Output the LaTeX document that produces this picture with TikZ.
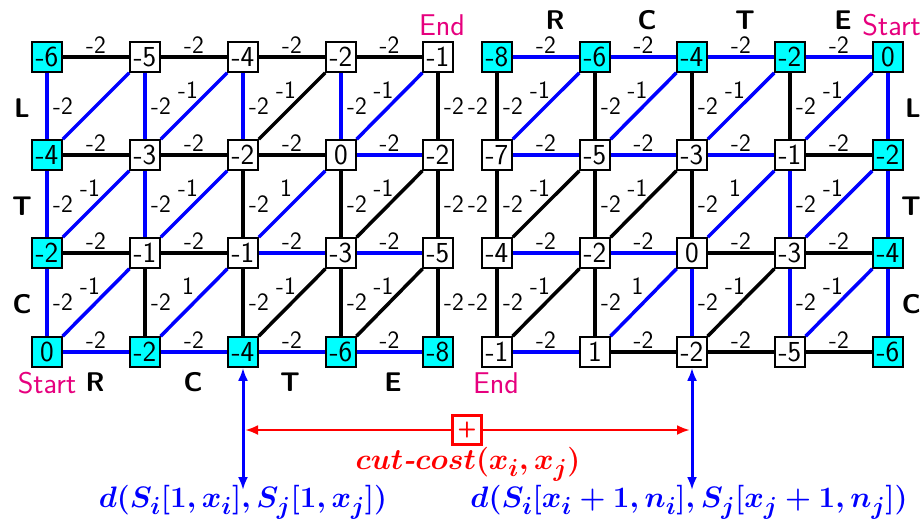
\documentclass[tikz,border=0pt]{standalone}
\usetikzlibrary{arrows.meta}
\definecolor{cy}{RGB}{0,255,255}
\definecolor{mg}{RGB}{230,0,126}
\definecolor{bl}{RGB}{0,0,255}
\definecolor{rd}{RGB}{255,0,0}
\newcommand{\bigmath}[1]{\scalebox{1.19}{\fontsize{24.88}{26}\selectfont\boldmath$#1$}}
\begin{document}
\begin{tikzpicture}[x=1pt,y=-1pt,
 num/.style={draw=black, line width=1.6pt, minimum width=30pt, minimum height=30pt, inner sep=0pt, fill=white, font=\sffamily\fontsize{29}{29}\selectfont},
 cnum/.style={num, fill=cy},
 edk/.style={line width=3.5pt, draw=black},
 edb/.style={line width=3.5pt, draw=bl},
 lab/.style={font=\sffamily\fontsize{25}{25}\selectfont, inner sep=0pt, text=black},
 hl/.style={lab, midway, yshift=12pt},
 vl/.style={lab, midway, xshift=16pt},
 vll/.style={lab, midway, xshift=-19pt},
 dl/.style={lab, midway, xshift=-6pt, yshift=16pt},
 let/.style={font=\sffamily\bfseries\fontsize{27}{27}\selectfont, inner sep=0pt},
 se/.style={font=\sffamily\fontsize{30}{30}\selectfont, text=mg, inner sep=0pt},
 barr/.style={line width=3pt, draw=bl, {Latex[length=13pt,width=10pt]}-{Latex[length=13pt,width=10pt]}},
 rarr/.style={line width=2.6pt, draw=rd, -{Latex[length=13pt,width=10pt]}},
 rbox/.style={draw=rd, line width=2.6pt, minimum width=29pt, minimum height=29pt, inner sep=0pt, fill=white, text=rd, font=\sffamily\bfseries\fontsize{22}{22}\selectfont},
 mtx/.style={inner sep=0pt}
]
\useasboundingbox (0,0) rectangle (921,520);
% left grid nodes
\node[cnum] (L00) at (47,57) {-6};
\node[num]  (L10) at (145,57) {-5};
\node[num]  (L20) at (243,57) {-4};
\node[num]  (L30) at (341,57) {-2};
\node[num]  (L40) at (438,57) {-1};
\node[cnum] (L01) at (47,155) {-4};
\node[num]  (L11) at (145,155) {-3};
\node[num]  (L21) at (243,155) {-2};
\node[num]  (L31) at (341,155) {0};
\node[num]  (L41) at (438,155) {-2};
\node[cnum] (L02) at (47,253) {-2};
\node[num]  (L12) at (145,253) {-1};
\node[num]  (L22) at (243,253) {-1};
\node[num]  (L32) at (341,253) {-3};
\node[num]  (L42) at (438,253) {-5};
\node[cnum] (L03) at (47,352) {0};
\node[cnum] (L13) at (145,352) {-2};
\node[cnum] (L23) at (243,352) {-4};
\node[cnum] (L33) at (341,352) {-6};
\node[cnum] (L43) at (438,352) {-8};
% right grid nodes
\node[cnum] (R00) at (497,57) {-8};
\node[cnum] (R10) at (595,57) {-6};
\node[cnum] (R20) at (692,57) {-4};
\node[cnum] (R30) at (790,57) {-2};
\node[cnum] (R40) at (888,57) {0};
\node[num]  (R01) at (497,155) {-7};
\node[num]  (R11) at (595,155) {-5};
\node[num]  (R21) at (692,155) {-3};
\node[num]  (R31) at (790,155) {-1};
\node[cnum] (R41) at (888,155) {-2};
\node[num]  (R02) at (497,253) {-4};
\node[num]  (R12) at (595,253) {-2};
\node[num]  (R22) at (692,253) {0};
\node[num]  (R32) at (790,253) {-3};
\node[cnum] (R42) at (888,253) {-4};
\node[num]  (R03) at (497,352) {-1};
\node[num]  (R13) at (595,352) {1};
\node[num]  (R23) at (692,352) {-2};
\node[num]  (R33) at (790,352) {-5};
\node[cnum] (R43) at (888,352) {-6};
% left edges
\foreach \a/\b/\s in {L00/L10/edk, L10/L20/edk, L20/L30/edk, L30/L40/edk,
  L01/L11/edk, L11/L21/edk, L21/L31/edk, L31/L41/edb,
  L02/L12/edk, L12/L22/edk, L22/L32/edb, L32/L42/edb,
  L03/L13/edb, L13/L23/edb, L23/L33/edb, L33/L43/edb}
  \draw[\s] (\a) -- (\b) node[hl]{-2};
\foreach \a/\b/\s in {L00/L01/edb, L01/L02/edb, L02/L03/edb,
  L10/L11/edb, L11/L12/edb, L12/L13/edk,
  L20/L21/edb, L21/L22/edk, L22/L23/edk,
  L30/L31/edb, L31/L32/edk, L32/L33/edk,
  L40/L41/edk, L41/L42/edk, L42/L43/edk}
  \draw[\s] (\a) -- (\b) node[vl]{-2};
\foreach \a/\b/\s/\t in {L01/L10/edb/{}, L11/L20/edb/-1, L21/L30/edk/-1, L31/L40/edb/-1,
  L02/L11/edb/-1, L12/L21/edb/-1, L22/L31/edb/1, L32/L41/edk/-1,
  L03/L12/edb/-1, L13/L22/edb/1, L23/L32/edk/-1, L33/L42/edk/-1}
  \draw[\s] (\a) -- (\b) node[dl]{\t};
% right edges
\foreach \a/\b/\s in {R00/R10/edb, R10/R20/edb, R20/R30/edb, R30/R40/edb,
  R01/R11/edb, R11/R21/edb, R21/R31/edb, R31/R41/edk,
  R02/R12/edb, R12/R22/edb, R22/R32/edk, R32/R42/edk,
  R03/R13/edb, R13/R23/edk, R23/R33/edk, R33/R43/edk}
  \draw[\s] (\a) -- (\b) node[hl]{-2};
\foreach \a/\b/\s in {R10/R11/edk, R11/R12/edk, R12/R13/edk,
  R20/R21/edk, R21/R22/edk, R22/R23/edb,
  R30/R31/edk, R31/R32/edb, R32/R33/edb}
  \draw[\s] (\a) -- (\b) node[vl]{-2};
\foreach \a/\b in {R00/R01, R01/R02, R02/R03}
  \draw[edk] (\a) -- (\b) node[vl]{-2} node[vll]{-2};
\foreach \a/\b in {R40/R41, R41/R42, R42/R43}
  \draw[edb] (\a) -- (\b);
\foreach \a/\b/\s/\t in {R01/R10/edb/-1, R11/R20/edb/-1, R21/R30/edb/-1, R31/R40/edb/-1,
  R02/R11/edk/-1, R12/R21/edk/-1, R22/R31/edb/1, R32/R41/edb/-1,
  R03/R12/edk/-1, R13/R22/edb/1, R23/R32/edk/-1, R33/R42/edb/-1}
  \draw[\s] (\a) -- (\b) node[dl]{\t};
% letters
\node[let] (lL) at (22,108) {L};
\node[let] (lT) at (22,206) {T};
\node[let] (lC) at (22,304) {C};
\node[let] (bR) at (95,382) {R};
\node[let] (bC) at (193,382) {C};
\node[let] (bT) at (290,382) {T};
\node[let] (bE) at (393,382) {E};
\node[se] (st1) at (47,383) {Start};
\node[se] (en1) at (442,25) {End};
\node[let] (tR) at (555,20) {R};
\node[let] (tC) at (647,20) {C};
\node[let] (tT) at (745,20) {T};
\node[let] (tE) at (843,20) {E};
\node[se, anchor=east] (st2) at (921,25) {Start};
\node[se] (en2) at (496,383) {End};
\node[let, anchor=east] (rL) at (921,108) {L};
\node[let, anchor=east] (rT) at (921,206) {T};
\node[let, anchor=east] (rC) at (921,304) {C};
% bottom
\coordinate (a1) at (243,490);
\coordinate (a2) at (692,490);
\draw[barr] (L23) -- (a1);
\draw[barr] (R23) -- (a2);
\node[rbox] (pl) at (467,430) {+};
\coordinate (r1) at (245,430);
\coordinate (r2) at (690,430);
\draw[rarr] (pl) -- (r1);
\draw[rarr] (pl) -- (r2);
\node[mtx, text=rd] (cc) at (468,464) {\bigmath{cut\mbox{\bfseries\itshape -}cost(x_i,x_j)}};
\node[mtx, text=bl] (d1) at (243,502) {\bigmath{d(S_i[1,x_i],S_j[1,x_j])}};
\node[mtx, text=bl] (d2) at (689,502) {\bigmath{d(S_i[x_i+1,n_i],S_j[x_j+1,n_j])}};
\end{tikzpicture}
\end{document}
